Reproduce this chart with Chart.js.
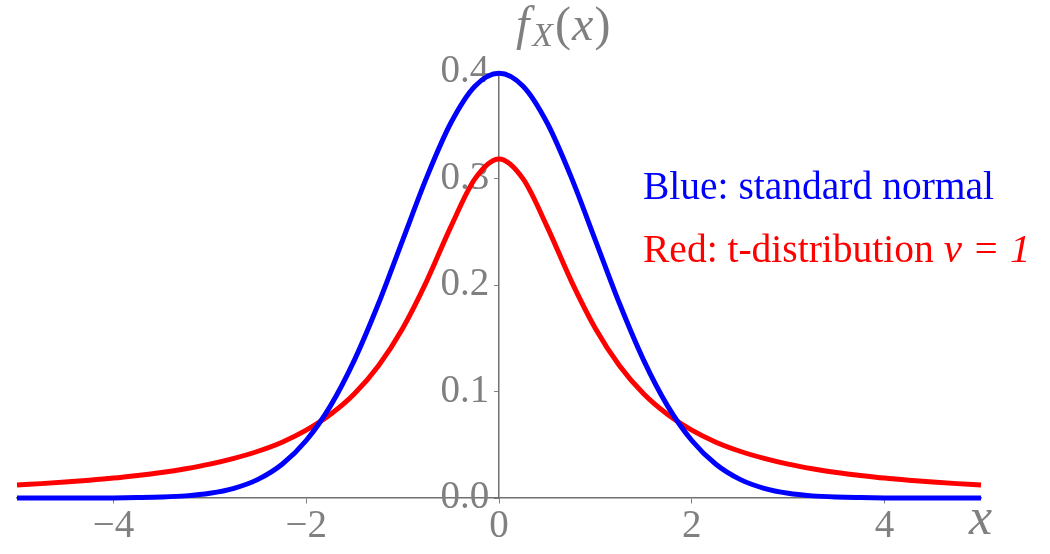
<!DOCTYPE html>
<html>
<head>
<meta charset="utf-8">
<script src="https://cdn.jsdelivr.net/npm/chart.js@4.4.0/dist/chart.umd.min.js"></script>
<style>
  html, body { margin: 0; padding: 0; background: #ffffff; }
  #wrap { width: 1050px; height: 554px; }
</style>
</head>
<body>
<div id="wrap"><canvas id="pdfChart"></canvas></div>
<script>
// values, x from -5 to 5
const xValues = [-5, -4.75, -4.5, -4.25, -4, -3.75, -3.5, -3.25, -3, -2.75, -2.5, -2.25, -2, -1.75, -1.5, -1.25, -1, -0.75, -0.5, -0.25,
  0, 0.25, 0.5, 0.75, 1, 1.25, 1.5, 1.75, 2, 2.25, 2.5, 2.75, 3, 3.25, 3.5, 3.75, 4, 4.25, 4.5, 4.75, 5];
const normalValues = [0, 0, 0, 0, 0.0001, 0.0004, 0.0009, 0.0020, 0.0044, 0.0091, 0.0175, 0.0317, 0.0540, 0.0863, 0.1295, 0.1826, 0.2420, 0.3011, 0.3521, 0.3867,
  0.3989, 0.3867, 0.3521, 0.3011, 0.2420, 0.1826, 0.1295, 0.0863, 0.0540, 0.0317, 0.0175, 0.0091, 0.0044, 0.0020, 0.0009, 0.0004, 0.0001, 0, 0, 0, 0];
const tValues = [0.0122, 0.0135, 0.0150, 0.0167, 0.0187, 0.0212, 0.0240, 0.0275, 0.0318, 0.0372, 0.0439, 0.0524, 0.0637, 0.0784, 0.0979, 0.1242, 0.1592, 0.2037, 0.2546, 0.2996,
  0.3183, 0.2996, 0.2546, 0.2037, 0.1592, 0.1242, 0.0979, 0.0784, 0.0637, 0.0524, 0.0439, 0.0372, 0.0318, 0.0275, 0.0240, 0.0212, 0.0187, 0.0167, 0.0150, 0.0135, 0.0122];
const xTicks = [-4, -2, 0, 2, 4];
const yTicks = [0, 0.1, 0.2, 0.3, 0.4];

const serif = "'Liberation Serif', 'DejaVu Serif', serif";
const gray = "#808080";

const toPoints = (ys) => xValues.map((x, i) => ({ x: x, y: ys[i] }));

// axis names and the two-line note on the right
const textPlugin = {
  id: "textPlugin",
  afterDraw(chart) {
    const ctx = chart.ctx;
    ctx.save();
    ctx.textBaseline = "alphabetic";
    ctx.textAlign = "left";
    ctx.fillStyle = gray;

    // f_X(x)
    let x = 516;
    ctx.font = "italic 48px " + serif;
    ctx.fillText("f", x, 40);
    x += ctx.measureText("f").width + 3;
    ctx.font = "italic 34px " + serif;
    ctx.fillText("X", x, 46);
    x += ctx.measureText("X").width + 2;
    ctx.font = "48px " + serif;
    ctx.fillText("(", x, 40);
    x += ctx.measureText("(").width + 1;
    ctx.font = "italic 48px " + serif;
    ctx.fillText("x", x, 40);
    x += ctx.measureText("x").width + 1;
    ctx.font = "48px " + serif;
    ctx.fillText(")", x, 40);

    // x label
    ctx.font = "italic 52px " + serif;
    ctx.fillText("x", 969, 534);

    // note
    ctx.font = "39.5px " + serif;
    ctx.fillStyle = "#0000ff";
    ctx.fillText("Blue: standard normal", 643, 199);
    ctx.fillStyle = "#ff0000";
    const part = "Red: t-distribution ";
    ctx.fillText(part, 643, 262);
    const w = ctx.measureText(part).width;
    ctx.font = "italic 41px " + serif;
    ctx.fillText("\u03bd = 1", 643 + w, 262);
    ctx.restore();
  }
};

const ctx = document.getElementById("pdfChart").getContext("2d");

const pdfChart = new Chart(ctx, {
  type: "line",
  data: {
    datasets: [
      {
        label: "standard normal",
        data: toPoints(normalValues),
        borderColor: "#0000ff",
        backgroundColor: "#0000ff",
        borderWidth: 5,
        pointRadius: 0,
        cubicInterpolationMode: "monotone",
        clip: false,
      },
      {
        label: "t-distribution v = 1",
        data: toPoints(tValues),
        borderColor: "#ff0000",
        backgroundColor: "#ff0000",
        borderWidth: 5,
        pointRadius: 0,
        cubicInterpolationMode: "monotone",
        clip: false,
      },
    ],
  },
  options: {
    responsive: true,
    maintainAspectRatio: false,
    animation: false,
    layout: {
      padding: { left: 17, right: 69, top: 72, bottom: 56 },
    },
    plugins: {
      legend: { display: false },
      title: { display: false },
      tooltip: { enabled: false },
    },
    scales: {
      x: {
        type: "linear",
        min: -5,
        max: 5,
        position: { y: 0 },
        afterBuildTicks: function (scale) {
          scale.ticks = xTicks.map((v) => ({ value: v }));
        },
        ticks: {
          color: gray,
          padding: 0,
          maxRotation: 0,
          font: { family: serif, size: 39 },
          callback: function (value) {
            return value < 0 ? "\u2212" + Math.abs(value) : String(value);
          },
        },
        grid: {
          drawOnChartArea: false,
          drawTicks: true,
          tickLength: 5,
          color: gray,
        },
        border: { display: true, color: "#707070", width: 1.5 },
      },
      y: {
        type: "linear",
        min: 0,
        max: 0.4,
        position: { x: 0 },
        afterBuildTicks: function (scale) {
          scale.ticks = yTicks.map((v) => ({ value: v }));
        },
        ticks: {
          color: gray,
          padding: 6,
          font: { family: serif, size: 39 },
          callback: function (value) {
            // trailing space keeps the label off the axis line
            return value.toFixed(1) + " ";
          },
        },
        grid: {
          drawOnChartArea: false,
          drawTicks: true,
          tickLength: 4,
          color: gray,
        },
        border: { display: true, color: "#707070", width: 1.5 },
      },
    },
  },
  plugins: [textPlugin],
});
</script>
</body>
</html>
